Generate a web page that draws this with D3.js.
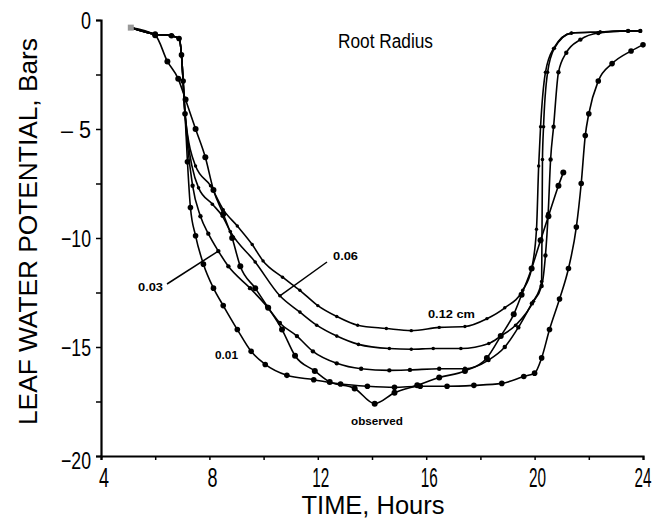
<!DOCTYPE html>
<html>
<head>
<meta charset="utf-8">
<script src="https://cdn.jsdelivr.net/npm/d3@7/dist/d3.min.js"></script>
<style>
  body { margin: 0; background: #fff; }
  svg { display: block; }
</style>
</head>
<body>
<div id="chart"></div>
<script>
// Data ----------------------------------------------
// [hour, leaf water potential in bars]
const radius012 = [[5.1,-0.35],[6.0,-0.65],[6.6,-0.72],[6.88,-0.85],[6.97,-1.6],[7.03,-2.8],[7.1,-4.3],
  [7.49,-6.7],[8.04,-7.6],[8.51,-8.7],[9.03,-9.45],[9.58,-10.3],[9.98,-11.05],[10.7,-11.8],[11.34,-12.4],
  [12.0,-13.1],[12.7,-13.6],[13.47,-14.0],[14.53,-14.15],[15.45,-14.25],[16.48,-14.1],[17.43,-14.06],
  [18.24,-13.7],[18.9,-13.2],[19.56,-12.4],[19.89,-11.4],[20.07,-9.6],[20.15,-6.7],[20.22,-4.9],
  [20.4,-2.4],[20.7,-1.3],[21.36,-0.6],[22.42,-0.55],[23.45,-0.5],[23.9,-0.5]];

const radius006 = [[5.1,-0.35],[6.0,-0.65],[6.6,-0.72],[6.88,-0.85],[6.97,-1.6],[7.03,-2.8],[7.1,-4.3],
  [7.6,-7.7],[8.11,-8.45],[8.48,-9.0],[8.77,-9.7],[9.69,-11.1],[10.6,-12.65],[11.34,-13.4],[11.96,-14.0],
  [12.7,-14.5],[13.5,-14.88],[14.64,-15.07],[15.45,-15.1],[16.26,-15.07],[17.28,-15.07],[18.31,-14.84],
  [18.75,-14.5],[19.3,-14.0],[19.96,-12.9],[20.26,-12.0],[20.29,-6.4],[20.33,-4.9],[20.48,-2.4],
  [20.73,-1.3],[21.36,-0.6],[22.42,-0.55],[23.45,-0.5],[23.9,-0.5]];

const radius003 = [[5.1,-0.35],[6.0,-0.65],[6.6,-0.72],[6.88,-0.85],[6.97,-1.6],[7.03,-2.8],[7.1,-4.3],
  [7.38,-7.6],[7.67,-9.0],[7.96,-9.8],[8.33,-10.6],[8.7,-11.3],[9.5,-12.3],[10.13,-13.15],[10.6,-13.9],
  [11.23,-14.5],[11.82,-15.2],[12.7,-15.75],[13.6,-16.0],[14.64,-16.07],[15.4,-16.05],[16.48,-16.0],
  [17.43,-16.0],[18.3,-15.6],[18.9,-15.0],[19.4,-14.1],[19.9,-13.0],[20.26,-12.2],[20.4,-10.8],
  [20.5,-8.9],[20.59,-6.4],[20.7,-4.9],[20.88,-2.4],[21.17,-1.5],[21.69,-0.9],[22.35,-0.6],
  [23.45,-0.5],[23.9,-0.5]];

const radius001 = [[5.1,-0.35],[6.0,-0.65],[6.6,-0.72],[6.88,-0.85],[6.97,-1.6],[7.03,-2.8],[7.1,-4.3],
  [7.19,-6.5],[7.3,-8.6],[7.49,-9.9],[7.78,-11.2],[8.15,-12.3],[8.51,-13.1],[9.03,-14.2],[9.54,-15.2],
  [10.06,-15.8],[10.86,-16.3],[11.85,-16.5],[12.84,-16.7],[13.83,-16.8],[14.83,-16.85],[15.78,-16.8],
  [16.77,-16.8],[17.76,-16.76],[18.79,-16.67],[19.6,-16.35],[20.0,-16.2],[20.26,-15.5],[20.55,-14.2],
  [20.92,-12.8],[21.25,-11.4],[21.54,-9.5],[21.72,-7.5],[21.87,-5.3],[22.0,-4.3],[22.35,-2.8],
  [22.86,-2.0],[23.56,-1.42],[24.0,-1.14]];

const observed = [[5.1,-0.35],[6.0,-0.7],[6.45,-1.9],[6.85,-2.7],[7.12,-3.65],[7.49,-5.0],[7.85,-6.3],
  [8.15,-7.8],[8.51,-8.9],[8.84,-10.0],[9.14,-11.3],[9.69,-12.3],[10.17,-13.2],[10.68,-14.2],
  [11.16,-15.4],[11.89,-16.1],[12.44,-16.6],[13.36,-16.9],[14.1,-17.6],[14.83,-17.1],[15.67,-16.76],
  [16.48,-16.4],[17.43,-16.1],[18.24,-15.5],[18.75,-14.5],[19.23,-13.5],[19.52,-12.6],[19.89,-11.4],
  [20.22,-10.1],[20.51,-9.0],[20.88,-7.6],[21.06,-7.0]];

const xTickLabels = [4, 8, 12, 16, 20, 24];
const yTickLabels = [0, -5, -10, -15, -20];

// Constants ----------------------------------------------
const width = 666;
const height = 525;

const series = [
  {name: "0.12", data: radius012, r: 1.7},
  {name: "0.06", data: radius006, r: 1.8},
  {name: "0.03", data: radius003, r: 2.2},
  {name: "0.01", data: radius001, r: 2.8},
  {name: "observed", data: observed, r: 3}
];

// Scales ----------------------------------------------
const xScale = d3.scaleLinear().domain([4, 24]).range([101, 643]);
const yScale = d3.scaleLinear().domain([-20, 0]).range([456, 20]);

const svg = d3.select("#chart").append("svg")
  .attr("width", width)
  .attr("height", height);

// Axes ----------------------------------------------
const narrow = "'Liberation Sans Narrow', 'Liberation Sans', Arial, sans-serif";

const xAxis = svg.append("g")
  .attr("transform", `translate(0,${yScale(-20)})`)
  .call(d3.axisBottom(xScale).tickValues(d3.range(4, 25, 2)).tickSize(4).tickFormat(""));
const yAxis = svg.append("g")
  .attr("transform", `translate(${xScale(4)},0)`)
  .call(d3.axisLeft(yScale).tickValues(d3.range(-20, 0.1, 2.5)).tickSize(5).tickFormat(""));

[xAxis, yAxis].forEach(a => {
  a.select(".domain").attr("stroke", "#000").attr("stroke-width", 2.2);
  a.selectAll(".tick line").attr("stroke", "#000").attr("stroke-width", 1.5);
});

svg.append("g").selectAll("text")
  .data(xTickLabels)
  .join("text")
  .attr("x", d => xScale(d) + (d === 24 ? 0 : 3))
  .attr("y", 487)
  .attr("text-anchor", "middle")
  .attr("font-family", narrow)
  .attr("font-size", 28)
  .attr("textLength", d => d >= 10 ? 17 : 10)
  .attr("lengthAdjust", "spacingAndGlyphs")
  .text(d => d);

svg.append("g").selectAll("text")
  .data(yTickLabels)
  .join("text")
  .attr("x", 91)
  .attr("y", d => yScale(d) + 9 + (d === -20 ? 4 : 0))
  .attr("text-anchor", "end")
  .attr("font-family", narrow)
  .attr("font-size", 24)
  .attr("textLength", d => d === 0 ? 10 : 30)
  .attr("lengthAdjust", "spacingAndGlyphs")
  .text(d => d === 0 ? "0" : d === -5 ? "\u2013 5" : "\u2212" + Math.abs(d));

svg.append("text")
  .attr("transform", `translate(37,${(38 + 425) / 2}) rotate(-90)`)
  .attr("text-anchor", "middle")
  .attr("font-family", "'Liberation Sans', Arial, sans-serif")
  .attr("font-size", 25)
  .attr("textLength", 387)
  .attr("lengthAdjust", "spacingAndGlyphs")
  .text("LEAF WATER POTENTIAL, Bars");

svg.append("text")
  .attr("x", 373)
  .attr("y", 514)
  .attr("text-anchor", "middle")
  .attr("font-family", "'Liberation Sans', Arial, sans-serif")
  .attr("font-size", 25)
  .attr("textLength", 143)
  .attr("lengthAdjust", "spacingAndGlyphs")
  .text("TIME, Hours");

svg.append("text")
  .attr("x", 338)
  .attr("y", 48)
  .attr("font-family", narrow)
  .attr("font-size", 20)
  .attr("textLength", 95)
  .attr("lengthAdjust", "spacingAndGlyphs")
  .text("Root Radius");

// Curves ----------------------------------------------
const line = d3.line()
  .x(d => xScale(d[0]))
  .y(d => yScale(d[1]))
  .curve(d3.curveMonotoneX);

series.forEach(s => {
  svg.append("path")
    .datum(s.data)
    .attr("fill", "none")
    .attr("stroke", "#000")
    .attr("stroke-width", 1.6)
    .attr("d", line);

  svg.append("g").selectAll("circle")
    .data(s.data.slice(1))
    .join("circle")
    .attr("cx", d => xScale(d[0]))
    .attr("cy", d => yScale(d[1]))
    .attr("r", s.r)
    .attr("fill", "#000");
});

// start marker
svg.append("rect")
  .attr("x", xScale(observed[0][0]) - 3)
  .attr("y", yScale(observed[0][1]) - 3)
  .attr("width", 6)
  .attr("height", 6)
  .attr("fill", "#999");

// Curve labels ----------------------------------------------
const small = "'Liberation Sans', Arial, sans-serif";
const labels = [
  {text: "0.12 cm", x: 428, y: 318, len: 47},
  {text: "0.06", x: 333, y: 260, len: 25},
  {text: "0.03", x: 138, y: 291, len: 25},
  {text: "0.01", x: 215, y: 359, len: 23},
  {text: "observed", x: 351, y: 425, len: 52}
];
svg.append("g").selectAll("text")
  .data(labels)
  .join("text")
  .attr("x", d => d.x)
  .attr("y", d => d.y)
  .attr("font-family", small)
  .attr("font-size", 11)
  .attr("font-weight", "bold")
  .attr("textLength", d => d.len)
  .attr("lengthAdjust", "spacingAndGlyphs")
  .text(d => d.text);

// label pointers
const pointers = [
  {from: [327, 262], to: [xScale(10.6), yScale(-12.65)]},
  {from: [167, 284], to: [xScale(8.33), yScale(-10.6)]}
];
svg.append("g").selectAll("line")
  .data(pointers)
  .join("line")
  .attr("x1", d => d.from[0])
  .attr("y1", d => d.from[1])
  .attr("x2", d => d.to[0])
  .attr("y2", d => d.to[1])
  .attr("stroke", "#000")
  .attr("stroke-width", 1.5);
</script>
</body>
</html>
